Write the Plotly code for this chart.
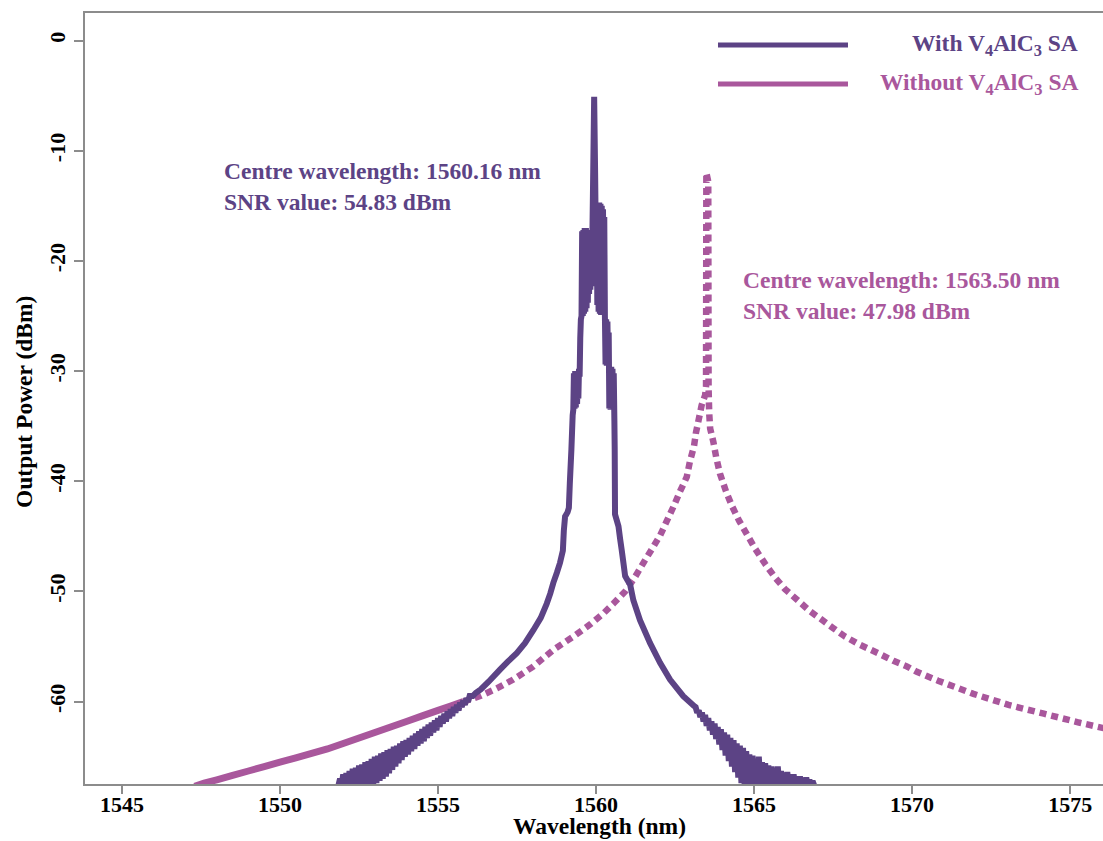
import plotly.graph_objects as go

# ---------------- data ----------------
with_x = [
    # left noisy tail
    1551.85, 1551.90, 1551.95, 1552.00, 1552.05, 1552.10, 1552.15, 1552.20, 1552.25, 1552.30,
    1552.35, 1552.40, 1552.45, 1552.50, 1552.55, 1552.60, 1552.65, 1552.70, 1552.75, 1552.80,
    1552.85, 1552.90, 1552.95, 1553.00, 1553.05, 1553.10, 1553.15, 1553.20, 1553.25, 1553.30,
    1553.35, 1553.40, 1553.45, 1553.50, 1553.55, 1553.60, 1553.65, 1553.70, 1553.75, 1553.80,
    1553.85, 1553.90, 1553.95, 1554.00, 1554.05, 1554.10, 1554.15, 1554.20, 1554.25, 1554.30,
    1554.35, 1554.40, 1554.45, 1554.50, 1554.55, 1554.60, 1554.65, 1554.70, 1554.75, 1554.80,
    1554.85, 1554.90, 1554.95, 1555.00, 1555.05, 1555.10, 1555.15, 1555.20, 1555.25, 1555.30,
    1555.35, 1555.40, 1555.45, 1555.50, 1555.55, 1555.60, 1555.65, 1555.70, 1555.75, 1555.80,
    1555.85, 1555.90, 1555.95, 1556.00, 1556.10, 1556.20, 1556.35,
    # left flank
    1556.6, 1556.96, 1557.2, 1557.49, 1557.75, 1558.02, 1558.25, 1558.44, 1558.55, 1558.65,
    1558.76, 1558.86, 1558.95, 1558.98, 1559.02, 1559.10, 1559.14, 1559.17, 1559.22, 1559.26,
    # left shoulder
    1559.28, 1559.30, 1559.32, 1559.34, 1559.36, 1559.38, 1559.40, 1559.42, 1559.44, 1559.46,
    1559.48, 1559.50, 1559.52,
    # left lobe
    1559.54, 1559.56, 1559.58, 1559.60, 1559.62, 1559.64, 1559.66, 1559.68, 1559.70, 1559.72,
    1559.74, 1559.76, 1559.78, 1559.80, 1559.82, 1559.84, 1559.86, 1559.88,
    # central peak
    1559.91, 1559.94, 1559.97, 1560.00,
    # right lobe
    1560.02, 1560.04, 1560.06, 1560.08, 1560.10, 1560.12, 1560.14, 1560.16, 1560.18, 1560.20,
    1560.22, 1560.24, 1560.26, 1560.28,
    # right branch + shoulder
    1560.30, 1560.32, 1560.34, 1560.36, 1560.38, 1560.40,
    1560.42, 1560.44, 1560.46, 1560.48, 1560.50, 1560.52, 1560.54, 1560.56, 1560.58, 1560.59,
    # right flank
    1560.60, 1560.66, 1560.71, 1560.76, 1560.81, 1560.87, 1560.92, 1561.00, 1561.08, 1561.18,
    1561.39, 1561.71, 1562.03, 1562.34, 1562.76, 1563.10,
    # right noisy tail
    1563.15, 1563.20, 1563.25, 1563.30, 1563.35, 1563.40, 1563.45, 1563.50, 1563.55, 1563.60,
    1563.65, 1563.70, 1563.75, 1563.80, 1563.85, 1563.90, 1563.95, 1564.00, 1564.05, 1564.10,
    1564.15, 1564.20, 1564.25, 1564.30, 1564.35, 1564.40, 1564.45, 1564.50, 1564.55, 1564.60,
    1564.65, 1564.70, 1564.75, 1564.80, 1564.85, 1564.90, 1564.95, 1565.00, 1565.05, 1565.10,
    1565.15, 1565.20, 1565.25, 1565.30, 1565.35, 1565.40, 1565.45, 1565.50, 1565.55, 1565.60,
    1565.65, 1565.70, 1565.75, 1565.80, 1565.85, 1565.90, 1565.95, 1566.00, 1566.05, 1566.10,
    1566.15, 1566.20, 1566.25, 1566.30, 1566.35, 1566.40, 1566.45, 1566.50, 1566.55, 1566.60,
    1566.65, 1566.70, 1566.75, 1566.80, 1566.85, 1566.90]
with_y = [
    -67.6, -67.0, -67.6, -66.6, -67.6, -66.5, -67.6, -66.3, -67.6, -66.1,
    -67.6, -66.0, -67.6, -65.8, -67.6, -65.7, -67.6, -65.5, -67.6, -65.4,
    -67.6, -65.2, -67.5, -65.0, -67.4, -64.9, -67.2, -64.7, -67.0, -64.6,
    -66.8, -64.4, -66.5, -64.3, -66.2, -64.1, -65.9, -64.0, -65.6, -63.8,
    -65.3, -63.6, -65.0, -63.5, -64.8, -63.3, -64.5, -63.1, -64.3, -62.9,
    -64.0, -62.7, -63.8, -62.5, -63.6, -62.3, -63.3, -62.1, -63.1, -61.9,
    -62.8, -61.7, -62.6, -61.5, -62.3, -61.3, -62.0, -61.1, -61.8, -60.9,
    -61.5, -60.7, -61.3, -60.5, -61.0, -60.3, -60.8, -60.1, -60.5, -59.9,
    -60.3, -59.7, -60.0, -59.5, -59.5, -59.2, -58.9,
    -58.2, -57.1, -56.4, -55.6, -54.7, -53.5, -52.4, -51.1, -50.2, -49.2,
    -48.3, -47.4, -46.3, -44.5, -43.2, -42.8, -42.4, -40.2, -37.1, -34.0,
    -33.5, -30.2, -33.4, -30.0, -33.3, -30.1, -33.0, -30.0, -32.5, -29.8,
    -30.5, -27.0, -25.3,
    -25.0, -17.3, -25.0, -17.2, -24.8, -17.0, -24.6, -17.0, -24.3, -17.2,
    -23.8, -17.4, -23.0, -17.6, -22.6, -17.8, -22.3, -18.5,
    -12.0, -5.1, -12.0, -20.0,
    -14.8, -24.0, -14.7, -24.6, -14.7, -24.8, -14.8, -24.9, -15.0, -24.8,
    -15.3, -24.5, -16.0, -25.0,
    -29.4, -25.3, -29.5, -25.5, -29.3, -26.5,
    -33.4, -29.7, -33.5, -29.6, -33.5, -29.8, -33.4, -30.2, -34.5, -37.1,
    -43.0, -43.6, -44.1, -45.2, -46.2, -47.5, -48.6, -49.0, -49.4, -50.8,
    -52.6, -54.7, -56.5, -58.0, -59.5, -60.4,
    -60.5, -61.0, -60.8, -61.4, -61.0, -61.8, -61.2, -62.2, -61.5, -62.6,
    -61.8, -63.0, -62.0, -63.4, -62.3, -63.9, -62.5, -64.4, -62.8, -64.9,
    -63.0, -65.4, -63.3, -65.9, -63.5, -66.4, -63.8, -66.9, -64.0, -67.4,
    -64.2, -67.6, -64.5, -67.6, -64.8, -67.6, -64.9, -67.6, -65.2, -67.6,
    -65.0, -67.6, -65.5, -67.6, -65.6, -67.6, -65.8, -67.6, -65.9, -67.6,
    -66.1, -67.6, -65.9, -67.6, -66.3, -67.6, -66.5, -67.6, -66.4, -67.6,
    -66.7, -67.6, -66.6, -67.6, -66.9, -67.6, -66.8, -67.6, -67.0, -67.6,
    -66.9, -67.6, -67.1, -67.6, -67.2, -67.6]

# "Without" spectrum: dense (continuous-looking) part
without_dense_x = [1547.3, 1547.6, 1548.0, 1548.5, 1549.0, 1549.5, 1550.0, 1550.5, 1551.0, 1551.5,
                   1552.0, 1552.5, 1553.0, 1553.5, 1554.0, 1554.5, 1555.0, 1555.4, 1555.8]
without_dense_y = [-67.7, -67.4, -67.1, -66.7, -66.3, -65.9, -65.5, -65.1, -64.7, -64.3,
                   -63.8, -63.3, -62.8, -62.3, -61.8, -61.3, -60.8, -60.4, -60.0]
# "Without" spectrum: sparse (dotted-looking) part
without_x = [1555.8, 1556.33, 1556.86, 1557.38, 1558.02, 1558.65, 1559.28, 1559.81, 1560.23, 1560.55,
             1560.92, 1561.19, 1561.5, 1561.82, 1562.03, 1562.24, 1562.45, 1562.66, 1562.87, 1562.97,
             1563.10, 1563.16, 1563.27, 1563.34, 1563.45, 1563.48, 1563.49, 1563.55, 1563.56, 1563.58,
             1563.61, 1563.71, 1563.80, 1563.92, 1564.11, 1564.31, 1564.53, 1564.77, 1565.03, 1565.35,
             1565.68, 1565.98, 1566.38, 1566.77, 1567.11, 1567.49, 1567.88, 1568.32, 1568.62, 1568.99,
             1569.41, 1569.83, 1570.15, 1570.82, 1571.94, 1573.05, 1574.17, 1575.28, 1576.2]
without_y = [-60.0, -59.5, -58.8, -58.0, -56.8, -55.3, -54.1, -53.0, -52.0, -51.1,
             -50.0, -48.9, -47.4, -45.9, -44.9, -43.6, -42.3, -40.9, -39.6, -38.2,
             -36.8, -35.6, -34.1, -33.1, -32.2, -31.4, -12.0, -12.8, -31.5, -33.8,
             -35.2, -36.4, -37.8, -39.3, -40.9, -42.3, -43.6, -44.8, -46.1, -47.5,
             -48.8, -49.8, -50.8, -51.8, -52.5, -53.3, -54.1, -54.8, -55.2, -55.7,
             -56.3, -56.8, -57.3, -58.1, -59.3, -60.3, -61.1, -61.9, -62.5]

x_ticks = [1545, 1550, 1555, 1560, 1565, 1570, 1575]
y_ticks = [0, -10, -20, -30, -40, -50, -60]

series_names = ["With V<sub>4</sub>AlC<sub>3</sub> SA", "Without V<sub>4</sub>AlC<sub>3</sub> SA"]
note_with = "Centre wavelength: 1560.16 nm<br>SNR value: 54.83 dBm"
note_without = "Centre wavelength: 1563.50 nm<br>SNR value: 47.98 dBm"

# ---------------- style ----------------
PURPLE = "#5C4385"
PINK = "#A9579C"
FONT = "Liberation Serif, Times New Roman, serif"
FS_TICK = 22
FS = 23.5
AXIS_GRAY = "#8c8c8c"

fig = go.Figure()
fig.add_trace(go.Scatter(x=without_dense_x, y=without_dense_y, mode="lines",
                         line=dict(color=PINK, width=7, simplify=False), showlegend=False))
fig.add_trace(go.Scatter(x=without_x, y=without_y, mode="lines",
                         line=dict(color=PINK, width=6.5, dash="7px,5px", simplify=False),
                         showlegend=False))
fig.add_trace(go.Scatter(x=with_x, y=with_y, mode="lines",
                         line=dict(color=PURPLE, width=6, simplify=False), showlegend=False))

fig.update_layout(
    width=1103, height=841,
    margin=dict(l=85, r=0, t=13, b=57),
    paper_bgcolor="white", plot_bgcolor="white",
    font=dict(family=FONT, size=FS, color="black"),
    showlegend=False,
)
fig.update_xaxes(range=[1543.83, 1576.04], tickvals=x_ticks,
                 ticktext=["<b>%d</b>" % v for v in x_ticks],
                 showgrid=False, zeroline=False, showline=True, linecolor=AXIS_GRAY, linewidth=1.5,
                 mirror=True, ticks="outside", ticklen=8, tickwidth=1.5, tickcolor=AXIS_GRAY,
                 ticklabelstandoff=-8,
                 tickfont=dict(family=FONT, size=FS_TICK, color="black"))
fig.update_yaxes(range=[-67.48, 2.51], tickvals=y_ticks,
                 ticktext=["<b>%d</b>" % v for v in y_ticks],
                 showgrid=False, zeroline=False, showline=True, linecolor=AXIS_GRAY, linewidth=1.5,
                 ticks="outside", ticklen=9, tickwidth=1.5, tickcolor=AXIS_GRAY, tickangle=-90,
                 tickfont=dict(family=FONT, size=FS_TICK, color="black"))

annotations = [
    dict(text="<b>Wavelength (nm)</b>", x=0.505, y=-0.0739, xref="paper", yref="paper",
         xanchor="center", yanchor="bottom", showarrow=False, font=dict(size=FS)),
    dict(text="<b>Output Power (dBm)</b>", x=-0.0599, y=0.4955, xref="paper", yref="paper",
         xanchor="center", yanchor="middle", textangle=-90, showarrow=False, font=dict(size=FS)),
    dict(text="<b>" + note_with + "</b>", x=0.1346, y=0.7756, xref="paper", yref="paper",
         xanchor="left", yanchor="middle", align="left", showarrow=False,
         font=dict(size=FS, color=PURPLE)),
    dict(text="<b>" + note_without + "</b>", x=0.6444, y=0.6342, xref="paper", yref="paper",
         xanchor="left", yanchor="middle", align="left", showarrow=False,
         font=dict(size=FS, color=PINK)),
    dict(text="<b>" + series_names[0] + "</b>", x=0.9774, y=0.9585, xref="paper", yref="paper",
         xanchor="right", yanchor="middle", showarrow=False, font=dict(size=FS, color=PURPLE)),
    dict(text="<b>" + series_names[1] + "</b>", x=0.9774, y=0.9079, xref="paper", yref="paper",
         xanchor="right", yanchor="middle", showarrow=False, font=dict(size=FS, color=PINK)),
]
fig.update_layout(annotations=annotations)

fig.add_shape(type="line", xref="paper", yref="paper", x0=0.6218, x1=0.7495, y0=0.9585, y1=0.9585,
              line=dict(color=PURPLE, width=5))
fig.add_shape(type="line", xref="paper", yref="paper", x0=0.6218, x1=0.7495, y0=0.9079, y1=0.9079,
              line=dict(color=PINK, width=5))

fig.write_html("out.html")
